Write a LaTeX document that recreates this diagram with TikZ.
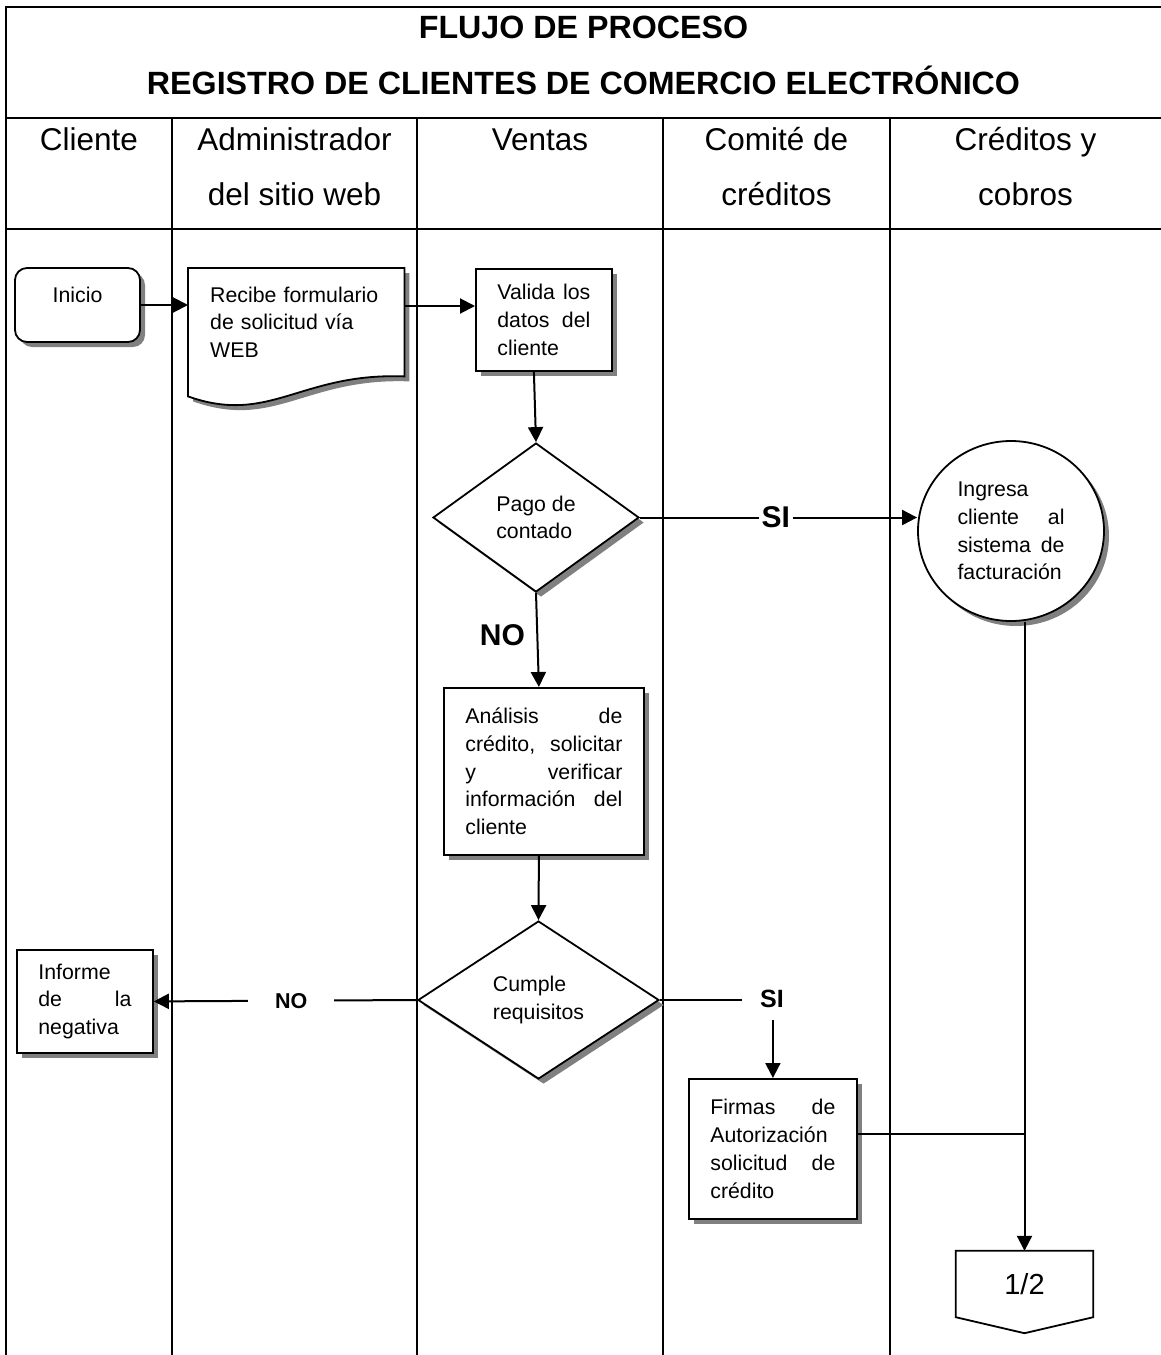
\documentclass[tikz,border=0pt]{standalone}
\usepackage{fontspec}
\setmainfont{Liberation Sans}
\usetikzlibrary{shapes.geometric,arrows.meta,shadows,backgrounds}
\definecolor{shadowgray}{RGB}{128,128,128}
\newcommand{\bodyfont}{\fontsize{21.3}{27.7}\selectfont}
\newcommand{\headfont}{\fontsize{31.5}{55}\selectfont}
\tikzset{
  frameline/.style={line width=2.6pt},
  laneline/.style={line width=2.6pt},
  conn/.style={line width=2pt},
  arr/.style={conn, -{Triangle[length=15pt,width=15pt]}},
  shad/.style={drop shadow={shadow xshift=5pt, shadow yshift=-5pt, fill=shadowgray, opacity=1}},
  proc/.style={draw, line width=1.8pt, fill=white, shad, rectangle, inner xsep=21.5pt, inner ysep=0pt, font=\bodyfont, align=left},
  dec/.style={draw, diamond, line width=1.8pt, fill=white, shad, inner sep=0pt, font=\bodyfont, align=left},
  biglbl/.style={font=\bfseries\fontsize{30}{30}\selectfont},
  lanehead/.style={font=\headfont, anchor=base, inner sep=0pt},
}
\begin{document}
\begin{tikzpicture}[x=1pt, y=-1pt]
\useasboundingbox (0,0) rectangle (1161,1355);
% frame and lanes
\draw[frameline] (1161,7) -- (6,7) -- (6,1355);
\draw[frameline] (6,118) -- (1161,118);
\draw[frameline] (6,229) -- (1161,229);
\foreach \x in {172,417,663,890} \draw[laneline] (\x,118) -- (\x,1355);
% titles
\node[anchor=base, inner sep=0pt] (title) at (583.5,38)
  {\parbox[t]{1120pt}{\centering\bfseries\fontsize{32.2}{56}\selectfont FLUJO DE PROCESO\\REGISTRO DE CLIENTES DE COMERCIO ELECTRÓNICO}};
\node[lanehead] (hcli) at (89,150.5) {Cliente};
\node[lanehead] (hadm) at (294.5,150.5) {\parbox[t]{240pt}{\centering Administrador\\del sitio web}};
\node[lanehead] (hven) at (540,150.5) {Ventas};
\node[lanehead] (hcom) at (776.5,150.5) {\parbox[t]{220pt}{\centering Comité de\\créditos}};
\node[lanehead] (hcre) at (1025.5,150.5) {\parbox[t]{260pt}{\centering Créditos y\\cobros}};
% shapes
\node[proc, rounded corners=12pt, minimum width=125pt, minimum height=74pt, inner sep=0pt] (inicio) at (77.5,305)
  {\raisebox{2.5pt}[0pt][0pt]{Inicio}};
\node[font=\bodyfont, anchor=north west, minimum width=216pt, minimum height=108pt, inner xsep=22pt, inner ysep=0pt,
      text width=172pt, align=left] (recibe) at (188,268) {Recibe formulario\\de solicitud vía\\WEB};
\begin{scope}[on background layer]
\draw[line width=1.8pt, fill=white, shad] (recibe.north west) -- (recibe.north east) -- (recibe.south east)
  .. controls ([xshift=-104pt,yshift=4pt]recibe.south east) and ([xshift=82pt,yshift=-49pt]recibe.south west)
  .. ([yshift=-20pt]recibe.south west) -- cycle;
\end{scope}
\node[proc, text width=93pt, minimum height=102pt, anchor=north west] (valida) at (475,268)
  {Valida\hfill los\\datos\hfill del\\cliente};
\node[dec, minimum width=206pt, minimum height=149pt] (pago) at (536,517.5) {Pago de\\contado};
\node[draw, ellipse, line width=1.8pt, fill=white, shad, minimum width=186pt, minimum height=180pt, inner sep=0pt,
      font=\bodyfont, text width=107pt, align=left] (ingresa) at (1011,531)
  {Ingresa\\cliente\hfill al\\sistema\hfill de\\\mbox{facturación}};
\node[proc, text width=157pt, minimum height=167pt, anchor=north west] (analisis) at (443,687)
  {Análisis\hfill de\\crédito,\hfill solicitar\\y\hfill verificar\\información\hfill del\\cliente};
\node[dec, minimum width=241pt, minimum height=158pt] (cumple) at (538.5,1000) {Cumple\\requisitos};
\node[proc, text width=93pt, minimum height=103pt, anchor=north west] (informe) at (16,949)
  {Informe\\de\hfill la\\negativa};
\node[font=\bfseries\fontsize{25}{25}\selectfont, inner xsep=18pt, inner ysep=12pt] (si2) at (772,999) {SI};
\node[proc, text width=125pt, minimum height=140pt, anchor=north west] (firmas) at (688,1078)
  {Firmas\hfill de\\Autorización\\solicitud\hfill de\\crédito};
\node[font=\fontsize{29}{29}\selectfont, minimum width=137pt, minimum height=66pt, inner sep=0pt] (offp) at (1024.5,1284) {1/2};
\draw[line width=1.8pt] (offp.north west) -- (offp.north east) -- (offp.south east) -- ([yshift=-16pt]offp.south)
  -- (offp.south west) -- cycle;
% connectors
\draw[arr] (inicio.east) -- (inicio.east -| recibe.west);
\draw[arr] ([yshift=-1pt]inicio.east -| recibe.east) -- ([yshift=-1pt]inicio.east -| valida.west);
\draw[arr] ([xshift=-10pt]valida.south) -- (pago.north);
\draw[arr] (pago.east) -- node[biglbl, fill=white, inner xsep=3pt, pos=0.49] (si1) {SI} (pago.east -| ingresa.west);
\draw[arr] (pago.south) -- node[biglbl, left=8pt, pos=0.45] (no1) {NO} ([xshift=-5pt]analisis.north);
\draw[arr] ([xshift=-5pt]analisis.south) -- (cumple.north);
\draw[arr] (cumple.west) -- node[font=\bfseries\fontsize{21.5}{21.5}\selectfont, fill=white, minimum width=86pt, pos=0.478] (no2) {NO} (informe.east);
\draw[conn] (cumple.east) -- (cumple.east -| si2.west);
\draw[arr] (si2.south -| firmas.north) -- (firmas.north);
\draw[arr] (ingresa.south -| offp.north) -- (offp.north);
\draw[conn] ([yshift=15pt]firmas.east) -- ([yshift=15pt]firmas.east -| offp.north);
\end{tikzpicture}
\end{document}
